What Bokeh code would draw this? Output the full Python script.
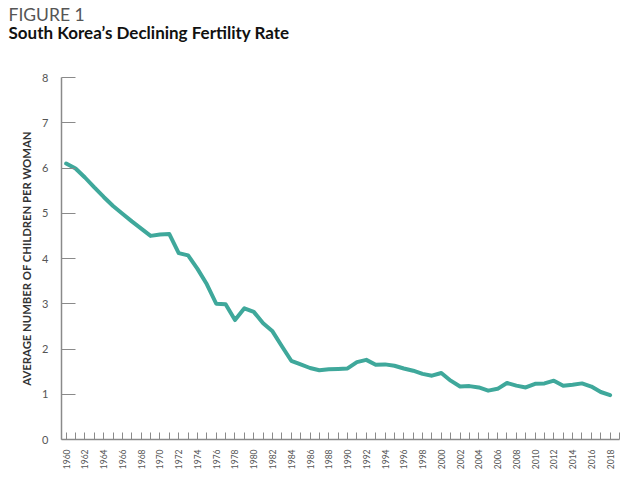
from bokeh.plotting import figure
from bokeh.models import Title, FixedTicker, Range1d
from bokeh.embed import file_html
from bokeh.resources import INLINE
from math import pi

years = list(range(1960, 2019))
fertility = [6.10, 5.99, 5.79, 5.57, 5.36, 5.16, 4.99, 4.82, 4.66, 4.50,
             4.53, 4.54, 4.12, 4.07, 3.77, 3.43, 3.00, 2.99, 2.64, 2.90,
             2.82, 2.57, 2.39, 2.06, 1.74, 1.66, 1.58, 1.53, 1.55, 1.56,
             1.57, 1.71, 1.76, 1.65, 1.66, 1.63, 1.57, 1.52, 1.45, 1.41,
             1.47, 1.30, 1.17, 1.18, 1.15, 1.08, 1.12, 1.25, 1.19, 1.15,
             1.23, 1.24, 1.30, 1.19, 1.21, 1.24, 1.17, 1.05, 0.98]
x_ticks = list(range(1960, 2020))
x_tick_labels = {y: (str(y) if y % 2 == 0 and y <= 2018 else "") for y in x_ticks}
y_ticks = list(range(0, 9))

FONT = "Lato"
AXIS_COLOR = "#8a8a8a"
LINE_COLOR = "#3fa89b"

p = figure(width=632, height=472, output_backend="svg", toolbar_location=None,
           x_range=Range1d(1959.5, 2019), y_range=Range1d(0, 8),
           min_border_left=61, min_border_right=13, min_border_top=77,
           min_border_bottom=31)
p.outline_line_color = None
p.grid.grid_line_color = None
p.background_fill_color = "white"

p.line(years, fertility, line_color=LINE_COLOR, line_width=4, line_cap="round",
       line_join="round")

xa = p.xaxis[0]
xa.ticker = FixedTicker(ticks=x_ticks)
xa.major_label_overrides = x_tick_labels
xa.major_label_orientation = pi / 2
xa.major_tick_in = 7
xa.major_tick_out = 0
xa.minor_tick_line_color = None
xa.axis_line_color = AXIS_COLOR
xa.major_tick_line_color = AXIS_COLOR
xa.axis_line_width = 1.5
xa.major_label_text_font = FONT
xa.major_label_text_font_size = "8.5px"
xa.major_label_text_color = "#555555"
xa.major_label_standoff = 10

ya = p.yaxis[0]
ya.ticker = FixedTicker(ticks=y_ticks)
ya.major_tick_in = 14
ya.major_tick_out = 0
ya.minor_tick_line_color = None
ya.axis_line_color = AXIS_COLOR
ya.major_tick_line_color = AXIS_COLOR
ya.axis_line_width = 1.5
ya.major_label_text_font = FONT
ya.major_label_text_font_size = "11px"
ya.major_label_text_color = "#555555"
ya.major_label_standoff = 13
ya.axis_label = "AVERAGE NUMBER OF CHILDREN PER WOMAN"
ya.axis_label_text_font = FONT
ya.axis_label_text_font_style = "bold"
ya.axis_label_text_font_size = "11.3px"
ya.axis_label_text_color = "#333333"
ya.axis_label_standoff = 6

# spacer between the frame and the title block
p.add_layout(Title(text=" ", standoff=31, text_font_size="2px"), "above")
p.add_layout(Title(text="South Korea\u2019s Declining Fertility Rate", align="left",
                   offset=-53, standoff=0, text_font=FONT, text_font_style="bold",
                   text_font_size="17px", text_color="#111111"), "above")
p.add_layout(Title(text="FIGURE 1", align="left", offset=-53, standoff=-11,
                   text_font=FONT, text_font_style="normal",
                   text_font_size="17.5px", text_color="#555555"), "above")

open("out.html", "w").write(file_html(p, INLINE))
